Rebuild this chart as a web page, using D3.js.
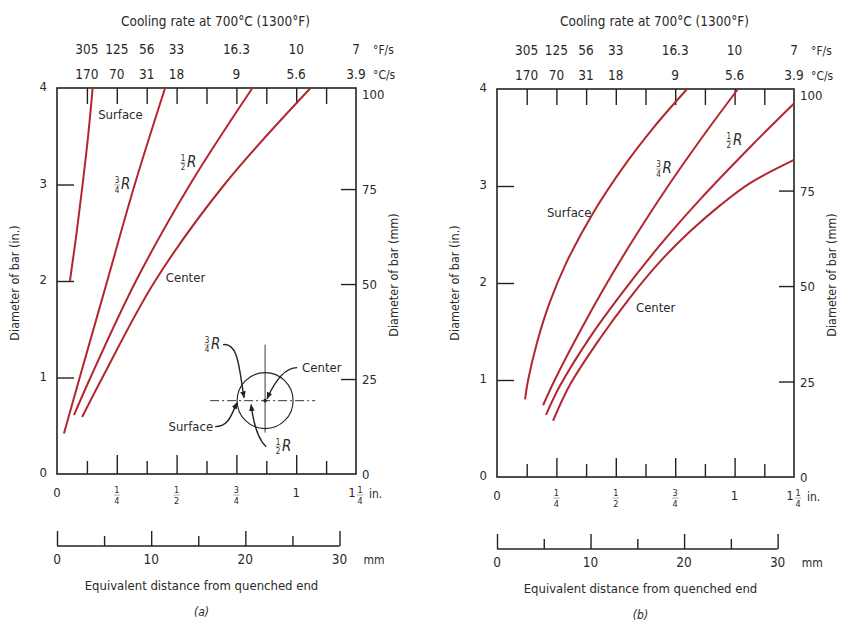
<!DOCTYPE html>
<html>
<head>
<meta charset="utf-8">
<script src="https://cdn.jsdelivr.net/npm/d3@7"></script>
<style>
    body { margin: 0; background: #fff; }
    svg text { font-family: "Liberation Sans Narrow", "DejaVu Sans Condensed", "Liberation Sans", sans-serif; fill: #2a2a2a; }
</style>
</head>
<body>
<div id="chart"></div>
<script>

// cooling rate scale along the top, placed at Jominy distance (in.)
const coolPos = [1/8, 2/8, 3/8, 4/8, 6/8, 8/8, 10/8];
const coolF = ["305", "125", "56", "33", "16.3", "10", "7"];
const coolC = ["170", "70", "31", "18", "9", "5.6", "3.9"];

// axes
const inchMajor = [0.25, 0.5, 0.75, 1.0];
const inchMinor = [0.125, 0.375, 0.625, 0.875, 1.125];
const inchWhole = ["0", "", "", "", "1", "1"];
const inchFrac = [null, ["1", "4"], ["1", "2"], ["3", "4"], null, ["1", "4"]];
const inchLabelPos = [0, 0.25, 0.5, 0.75, 1.0, 1.25];
const topTicks = [1, 2, 3, 4, 5, 6, 7, 8, 9].map(k => k / 8);
const diaIn = [0, 1, 2, 3, 4];
const diaMm = [0, 25, 50, 75, 100];
const distMm = [0, 10, 20, 30];
const distMmMinor = [5, 15, 25];

// curves: [distance (in.), bar diameter (in.)]
// (a) quenched in water
const surfaceA = [[0.054, 2.0], [0.082, 2.5], [0.107, 3.0], [0.13, 3.5], [0.149, 4.0]];
const threeQA = [[0.029, 0.42], [0.095, 1.0], [0.21, 2.0], [0.325, 3.0], [0.452, 4.0]];
const halfA = [[0.071, 0.61], [0.14, 1.0], [0.33, 2.0], [0.556, 3.0], [0.817, 4.0]];
const centerA = [[0.105, 0.59], [0.19, 1.0], [0.41, 2.0], [0.70, 3.0], [1.06, 4.0]];
// (b) quenched in oil
const surfaceB = [[0.118, 0.80], [0.131, 1.0], [0.17, 1.4], [0.222, 1.8], [0.29, 2.2], [0.404, 2.72],
                  [0.533, 3.2], [0.658, 3.6], [0.80, 4.0]];
const threeQB = [[0.194, 0.74], [0.243, 1.0], [0.349, 1.5], [0.463, 2.0], [0.587, 2.5], [0.72, 3.0],
                 [0.863, 3.5], [1.014, 4.0]];
const halfB = [[0.206, 0.64], [0.265, 0.94], [0.391, 1.44], [0.518, 1.87], [0.686, 2.39], [0.854, 2.86],
               [1.065, 3.40], [1.25, 3.85]];
const centerB = [[0.236, 0.58], [0.307, 0.95], [0.434, 1.43], [0.56, 1.85], [0.686, 2.22], [0.812, 2.53],
                 [0.939, 2.80], [1.065, 3.03], [1.25, 3.27]];

const W = 852, H = 622;
const RED = "#b3262f";
const INK = "#222";

const svg = d3.select("#chart").append("svg")
    .attr("width", W)
    .attr("height", H);

svg.append("defs").append("marker")
    .attr("id", "arrow")
    .attr("viewBox", "0 0 10 10")
    .attr("refX", 9).attr("refY", 5)
    .attr("markerWidth", 5).attr("markerHeight", 5)
    .attr("orient", "auto")
    .append("path")
    .attr("d", "M0,1 L10,5 L0,9 Z")
    .attr("fill", INK);

const panels = [
    {
        tag: "(a)", left: 57, right: 356, top: 88, bottom: 474,
        curves: [surfaceA, threeQA, halfA, centerA],
        labels: [
            {kind: "text", text: "Surface", x: 0.172, y: 3.68},
            {kind: "R", frac: ["3", "4"], x: 0.251, y: 2.95},
            {kind: "R", frac: ["1", "2"], x: 0.527, y: 3.18},
            {kind: "text", text: "Center", x: 0.455, y: 1.99}
        ],
        inset: true
    },
    {
        tag: "(b)", left: 497, right: 794, top: 89, bottom: 477,
        curves: [surfaceB, threeQB, halfB, centerB],
        labels: [
            {kind: "text", text: "Surface", x: 0.21, y: 2.68},
            {kind: "R", frac: ["3", "4"], x: 0.68, y: 3.13},
            {kind: "R", frac: ["1", "2"], x: 0.976, y: 3.42},
            {kind: "text", text: "Center", x: 0.585, y: 1.70}
        ],
        inset: false
    }
];

function styleAxis(sel) {
    sel.select(".domain").remove();
    sel.selectAll(".tick line").attr("stroke", INK).attr("stroke-width", 1.4);
}

// stacked little fraction centred on cx, with its base line at by
function fraction(g, cx, by, num, den, size) {
    g.append("text").attr("x", cx).attr("y", by - size * 0.75)
        .attr("text-anchor", "middle").attr("font-size", size).text(num);
    g.append("line")
        .attr("x1", cx - size * 0.35).attr("x2", cx + size * 0.35)
        .attr("y1", by - size * 0.55).attr("y2", by - size * 0.55)
        .attr("stroke", "#777").attr("stroke-width", 0.6);
    g.append("text").attr("x", cx).attr("y", by + size * 0.4)
        .attr("text-anchor", "middle").attr("font-size", size).text(den);
}

function rLabel(g, cx, by, frac) {
    fraction(g, cx, by, frac[0], frac[1], 8);
    g.append("text").attr("x", cx + 4).attr("y", by)
        .attr("font-family", "Liberation Serif, serif")
        .attr("font-style", "italic")
        .attr("font-size", 15)
        .text("R");
}

function drawPanel(p) {
    const g = svg.append("g");

    const x = d3.scaleLinear().domain([0, 1.25]).range([p.left, p.right]);
    const xmm = d3.scaleLinear().domain([0, 1.25 * 25.4]).range([p.left, p.right]);
    const y = d3.scaleLinear().domain([0, 4]).range([p.bottom, p.top]);
    const ymm = d3.scaleLinear().domain([0, 4 * 25.4]).range([p.bottom, p.top]);

    // inward ticks on all four sides
    g.append("g").attr("transform", "translate(0," + p.bottom + ")")
        .call(d3.axisBottom(x).tickValues(inchMajor).tickSize(-19).tickSizeOuter(0).tickFormat(""))
        .call(styleAxis);
    g.append("g").attr("transform", "translate(0," + p.bottom + ")")
        .call(d3.axisBottom(x).tickValues(inchMinor).tickSize(-13).tickSizeOuter(0).tickFormat(""))
        .call(styleAxis);
    g.append("g").attr("transform", "translate(0," + p.top + ")")
        .call(d3.axisTop(x).tickValues(topTicks).tickSize(-16).tickSizeOuter(0).tickFormat(""))
        .call(styleAxis);
    g.append("g").attr("transform", "translate(" + p.left + ",0)")
        .call(d3.axisLeft(y).tickValues([1, 2, 3]).tickSize(-17).tickSizeOuter(0).tickFormat(""))
        .call(styleAxis);
    g.append("g").attr("transform", "translate(" + p.right + ",0)")
        .call(d3.axisRight(ymm).tickValues([25, 50, 75]).tickSize(-15).tickSizeOuter(0).tickFormat(""))
        .call(styleAxis);

    // frame
    g.append("rect")
        .attr("x", p.left).attr("y", p.top)
        .attr("width", p.right - p.left).attr("height", p.bottom - p.top)
        .attr("fill", "none").attr("stroke", INK).attr("stroke-width", 1.6);

    // left / right tick labels
    g.selectAll(".yl").data(diaIn).join("text")
        .attr("x", p.left - 10).attr("y", d => y(d) + 3)
        .attr("text-anchor", "end").attr("font-size", 13).text(d => d);
    g.selectAll(".yr").data(diaMm).join("text")
        .attr("x", p.right + 6).attr("y", d => ymm(d) + 5)
        .attr("font-size", 13).text(d => d);

    // axis titles, rotated
    g.append("text")
        .attr("transform", "translate(" + (p.left - 38) + ",283) rotate(-90)")
        .attr("text-anchor", "middle").attr("font-size", 12.5)
        .text("Diameter of bar (in.)");
    g.append("text")
        .attr("transform", "translate(" + (p.right + 42) + ",275) rotate(-90)")
        .attr("text-anchor", "middle").attr("font-size", 12.5)
        .text("Diameter of bar (mm)");

    // cooling-rate scale on top
    const mid = (p.left + p.right) / 2;
    g.append("text")
        .attr("x", mid + 9).attr("y", 26)
        .attr("text-anchor", "middle").attr("font-size", 13.5)
        .text("Cooling rate at 700°C (1300°F)");
    coolPos.forEach(function (v, i) {
        g.append("text").attr("x", x(v)).attr("y", p.top - 34)
            .attr("text-anchor", "middle").attr("font-size", 13.5).text(coolF[i]);
        g.append("text").attr("x", x(v)).attr("y", p.top - 9)
            .attr("text-anchor", "middle").attr("font-size", 13.5).text(coolC[i]);
    });
    g.append("text").attr("x", p.right + 17).attr("y", p.top - 34)
        .attr("font-size", 12).text("°F/s");
    g.append("text").attr("x", p.right + 17).attr("y", p.top - 9)
        .attr("font-size", 12).text("°C/s");

    // inch labels below the frame
    inchLabelPos.forEach(function (v, i) {
        const cx = x(v);
        const fr = inchFrac[i];
        if (fr && inchWhole[i]) {
            g.append("text").attr("x", cx - 4).attr("y", p.bottom + 23)
                .attr("text-anchor", "middle").attr("font-size", 13).text(inchWhole[i]);
            fraction(g, cx + 4, p.bottom + 26, fr[0], fr[1], 9);
        } else if (fr) {
            fraction(g, cx, p.bottom + 26, fr[0], fr[1], 9);
        } else {
            g.append("text").attr("x", cx).attr("y", p.bottom + 23)
                .attr("text-anchor", "middle").attr("font-size", 13).text(inchWhole[i]);
        }
    });
    g.append("text").attr("x", x(1.25) + 13).attr("y", p.bottom + 24)
        .attr("font-size", 12).text("in.");

    // separate mm scale
    const mmY = p.bottom + 72;
    g.append("line")
        .attr("x1", xmm(0)).attr("x2", xmm(30))
        .attr("y1", mmY).attr("y2", mmY)
        .attr("stroke", INK).attr("stroke-width", 1.4);
    g.append("g").attr("transform", "translate(0," + mmY + ")")
        .call(d3.axisBottom(xmm).tickValues(distMm).tickSize(-15).tickSizeOuter(0).tickFormat(""))
        .call(styleAxis);
    g.append("g").attr("transform", "translate(0," + mmY + ")")
        .call(d3.axisBottom(xmm).tickValues(distMmMinor).tickSize(-10).tickSizeOuter(0).tickFormat(""))
        .call(styleAxis);
    g.selectAll(".xm").data(distMm).join("text")
        .attr("x", d => xmm(d)).attr("y", mmY + 18)
        .attr("text-anchor", "middle").attr("font-size", 13.5).text(d => d);
    g.append("text").attr("x", xmm(30) + 24).attr("y", mmY + 18)
        .attr("font-size", 12).text("mm");

    g.append("text").attr("x", mid - 5).attr("y", p.bottom + 116)
        .attr("text-anchor", "middle").attr("font-size", 13)
        .text("Equivalent distance from quenched end");
    g.append("text").attr("x", mid - 5).attr("y", p.bottom + 142)
        .attr("text-anchor", "middle").attr("font-size", 12)
        .attr("font-family", "Liberation Serif, serif").attr("font-style", "italic")
        .text(p.tag);

    // curves
    const line = d3.line()
        .x(d => x(d[0]))
        .y(d => y(d[1]))
        .curve(d3.curveCatmullRom.alpha(0.5));
    g.selectAll(".curve").data(p.curves).join("path")
        .attr("d", line)
        .attr("fill", "none")
        .attr("stroke", RED)
        .attr("stroke-width", 2);

    // curve labels
    p.labels.forEach(function (l) {
        if (l.kind === "text") {
            g.append("text").attr("x", x(l.x)).attr("y", y(l.y))
                .attr("font-size", 13).text(l.text);
        } else {
            rLabel(g, x(l.x), y(l.y), l.frac);
        }
    });

    if (p.inset) drawInset(g, x(0.87), y(0.76));
}

// little cross-section sketch of the bar with radial positions
function drawInset(g, cx, cy) {
    const r = 28;
    g.append("circle").attr("cx", cx).attr("cy", cy).attr("r", r)
        .attr("fill", "none").attr("stroke", INK).attr("stroke-width", 1.1);
    g.append("line")
        .attr("x1", cx - 55).attr("x2", cx + 50).attr("y1", cy).attr("y2", cy)
        .attr("stroke", INK).attr("stroke-width", 0.9)
        .attr("stroke-dasharray", "9,3,2,3");
    g.append("line")
        .attr("x1", cx).attr("x2", cx).attr("y1", cy - 56).attr("y2", cy + 32)
        .attr("stroke", INK).attr("stroke-width", 0.9);
    g.append("circle").attr("cx", cx).attr("cy", cy).attr("r", 1.8).attr("fill", INK);

    const arrows = [
        "M" + (cx + 32) + "," + (cy - 33) + " C" + (cx + 20) + "," + (cy - 33) + " " + (cx + 10) + "," + (cy - 20) + " " + (cx + 2) + "," + (cy - 2),
        "M" + (cx - 42) + "," + (cy - 56) + " C" + (cx - 26) + "," + (cy - 58) + " " + (cx - 26) + "," + (cy - 30) + " " + (cx - 21) + "," + (cy - 3),
        "M" + (cx - 50) + "," + (cy + 26) + " C" + (cx - 36) + "," + (cy + 26) + " " + (cx - 34) + "," + (cy + 14) + " " + (cx - 28) + "," + (cy + 2),
        "M" + (cx + 1) + "," + (cy + 46) + " C" + (cx - 8) + "," + (cy + 38) + " " + (cx - 12) + "," + (cy + 20) + " " + (cx - 14) + "," + (cy + 4)
    ];
    arrows.forEach(function (d) {
        g.append("path").attr("d", d)
            .attr("fill", "none").attr("stroke", INK).attr("stroke-width", 1.4)
            .attr("marker-end", "url(#arrow)");
    });

    g.append("text").attr("x", cx + 37).attr("y", cy - 29)
        .attr("font-size", 13).text("Center");
    g.append("text").attr("x", cx - 52).attr("y", cy + 30)
        .attr("text-anchor", "end").attr("font-size", 13).text("Surface");
    rLabel(g, cx - 58, cy - 52, ["3", "4"]);
    rLabel(g, cx + 13, cy + 50, ["1", "2"]);
}

panels.forEach(drawPanel);

</script>
</body>
</html>
